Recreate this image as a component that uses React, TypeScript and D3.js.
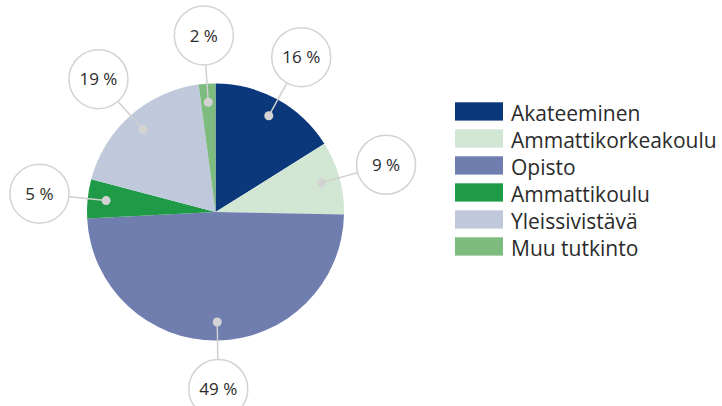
import React from 'react';
import * as d3 from 'd3';

const categories = ['Akateeminen', 'Ammattikorkeakoulu', 'Opisto', 'Ammattikoulu', 'Yleissivistävä', 'Muu tutkinto'];
const values = [16.1, 9.2, 48.9, 4.9, 18.8, 2.1];
const valueLabels = ['16 %', '9 %', '49 %', '5 %', '19 %', '2 %'];
const colors = ['#0b377b', '#d1e6d3', '#6f7daf', '#1f9b47', '#c0c9dc', '#7dbb7e'];

export default function App() {
  const W = 722, H = 406;
  const cx = 215.5, cy = 212, r = 128.5;
  const pie = d3.pie<number>().sort(null).value((d) => d);
  const arcs = pie(values);
  const arc = d3.arc<d3.PieArcDatum<number>>().innerRadius(0).outerRadius(r);
  const dotArc = d3.arc<d3.PieArcDatum<number>>().innerRadius(110).outerRadius(110);
  const lblArc = d3.arc<d3.PieArcDatum<number>>().innerRadius(177).outerRadius(177);
  const legendY = d3.scaleBand<number>().domain(d3.range(categories.length)).range([102.3, 102.3 + 27 * categories.length]);
  const font = '"Open Sans", Lato, sans-serif';
  return (
    <svg width={W} height={H} style={{ position: 'absolute', left: 0, top: 0, background: '#fff' }}>
      <g transform={`translate(${cx},${cy})`}>
        {arcs.map((a, i) => (
          <path key={i} d={arc(a) || ''} fill={colors[i]} />
        ))}
        {arcs.map((a, i) => {
          const [dx, dy] = dotArc.centroid(a);
          const [lx, ly] = lblArc.centroid(a);
          return (
            <g key={'l' + i}>
              <line x1={dx} y1={dy} x2={lx} y2={ly} stroke="#cfcfcf" strokeWidth={1.5} />
              <circle cx={dx} cy={dy} r={4.5} fill="#d3d3d3" />
              <circle cx={lx} cy={ly} r={29.5} fill="#fff" stroke="#d3d3d3" strokeWidth={1.5} />
              <text x={lx} y={ly} dy="0.36em" textAnchor="middle" fontFamily={font} fontSize={17} fill="#2b2b2b">
                {valueLabels[i]}
              </text>
            </g>
          );
        })}
      </g>
      <g>
        {categories.map((c, i) => {
          const y = legendY(i)!;
          return (
            <g key={c}>
              <rect x={455} y={y} width={48} height={18.3} fill={colors[i]} />
              <text x={511} y={y + 18.3} fontFamily={font} fontSize={21} fill="#2b2b2b" style={{ fontVariantLigatures: 'none' }}>
                {c}
              </text>
            </g>
          );
        })}
      </g>
    </svg>
  );
}
